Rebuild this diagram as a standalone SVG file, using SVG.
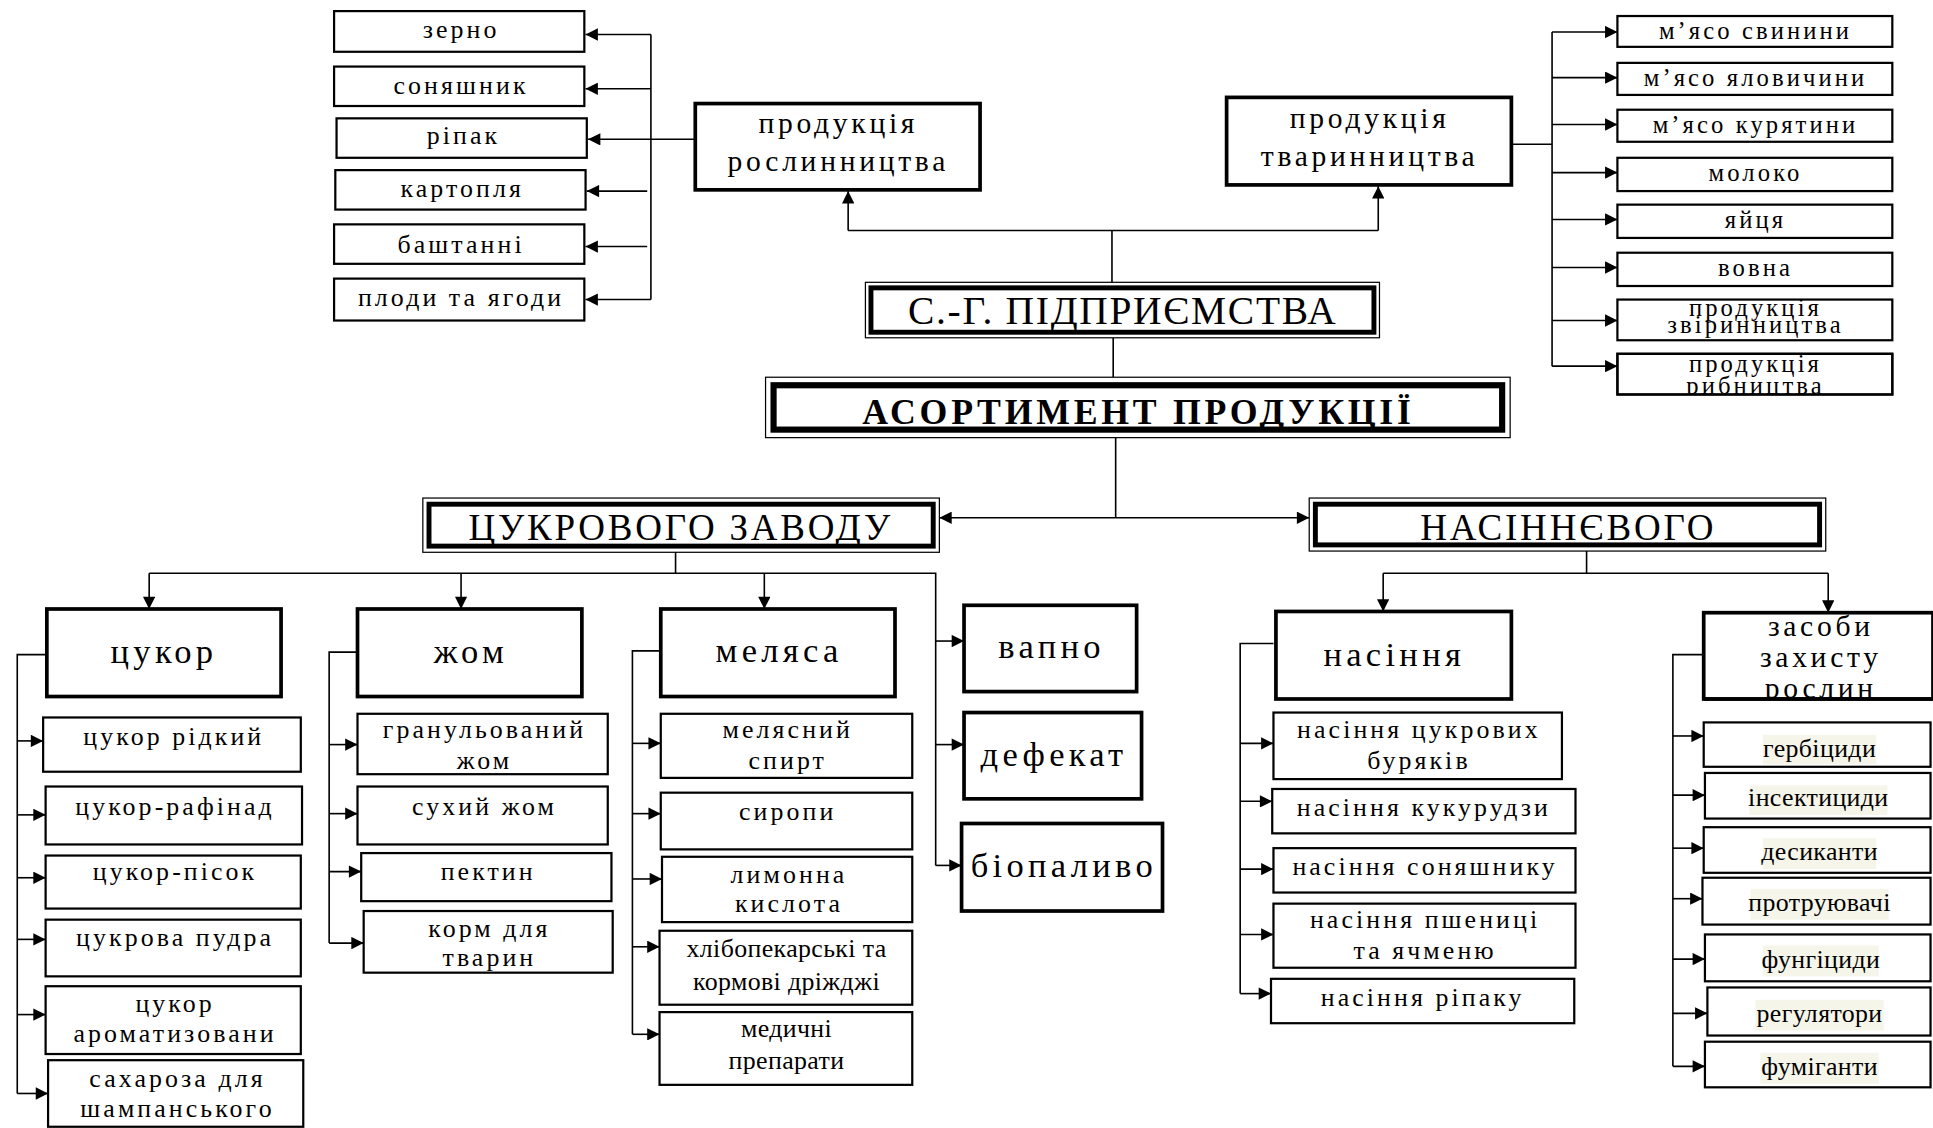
<svg xmlns="http://www.w3.org/2000/svg" width="1933" height="1128" viewBox="0 0 1933 1128">
<style>
text{font-family:"Liberation Serif","Times New Roman",serif;fill:#000;text-anchor:middle}
.l{font-size:21px;letter-spacing:2.5px}
.s{font-size:20px;letter-spacing:2.5px}
.m{font-size:24px;letter-spacing:3px}
.g{font-size:28px;letter-spacing:3.5px}
.p{font-size:21px;letter-spacing:0.3px}
.t{font-size:32px}
.tb{font-size:29px;font-weight:bold}
.b1{fill:#fff;stroke:#000;stroke-width:1.8}
.b2{fill:#fff;stroke:#000;stroke-width:3}
.o{fill:#fff;stroke:#000;stroke-width:1}
.k{fill:none;stroke:#000;stroke-width:4}
.hl{fill:#f5f5ea}
.c{fill:none;stroke:#000;stroke-width:1.3}
.a{fill:none;stroke:#000;stroke-width:1.3;marker-end:url(#ah)}
</style>
<defs>
<marker id="ah" viewBox="0 0 10 10" refX="10" refY="5" markerWidth="12" markerHeight="10" markerUnits="userSpaceOnUse" orient="auto">
<path d="M0,0 L10,5 L0,10 Z" fill="#000"/>
</marker>
<clipPath id="clipRyb"><rect x="1312" y="287" width="223" height="33"/></clipPath>
<clipPath id="clipZas"><rect x="1382" y="497" width="186" height="70"/></clipPath>
</defs>
<rect width="1933" height="1128" fill="#fff"/>
<g transform="scale(1.23278)">
<g id="connectors">
<path class="c" d="M528 28 V243"/>
<path class="a" d="M528 28 H475"/>
<path class="a" d="M528 72 H475"/>
<path class="a" d="M564 113 H477"/>
<path class="a" d="M525 155 H476"/>
<path class="a" d="M525 200 H475"/>
<path class="a" d="M528 243 H475"/>
<path class="c" d="M902 229 V187 M688 187 H1118"/>
<path class="a" d="M688 187 V155"/>
<path class="a" d="M1118 187 V151"/>
<path class="c" d="M1226 117 H1259 M1259 26 V297"/>
<path class="a" d="M1259 26 H1312"/>
<path class="a" d="M1259 63 H1312"/>
<path class="a" d="M1259 101 H1312"/>
<path class="a" d="M1259 140 H1312"/>
<path class="a" d="M1259 178 H1312"/>
<path class="a" d="M1259 217 H1312"/>
<path class="a" d="M1259 260 H1312"/>
<path class="a" d="M1259 297 H1312"/>
<path class="c" d="M903 274 V306 M905 355 V420"/>
<path class="a" d="M905 420 H762"/>
<path class="a" d="M905 420 H1062"/>
<path class="c" d="M548 448 V465 M121 465 H759 V702"/>
<path class="a" d="M121 465 V494"/>
<path class="a" d="M374 465 V494"/>
<path class="a" d="M620 465 V494"/>
<path class="a" d="M759 520 H782"/>
<path class="a" d="M759 604 H782"/>
<path class="a" d="M759 702 H780"/>
<path class="c" d="M38 531 H14 V887"/>
<path class="a" d="M14 601 H35"/>
<path class="a" d="M14 661 H37"/>
<path class="a" d="M14 712 H37"/>
<path class="a" d="M14 762 H37"/>
<path class="a" d="M14 823 H37"/>
<path class="a" d="M14 887 H39"/>
<path class="c" d="M290 529 H267 V765"/>
<path class="a" d="M267 604 H290"/>
<path class="a" d="M267 660 H290"/>
<path class="a" d="M267 707 H293"/>
<path class="a" d="M267 765 H295"/>
<path class="c" d="M536 528 H513 V839"/>
<path class="a" d="M513 603 H536"/>
<path class="a" d="M513 660 H536"/>
<path class="a" d="M513 713 H537"/>
<path class="a" d="M513 768 H535"/>
<path class="a" d="M513 839 H535"/>
<path class="c" d="M1287 447 V465 M1122 465 H1483"/>
<path class="a" d="M1122 465 V496"/>
<path class="a" d="M1483 465 V497"/>
<path class="c" d="M1033 522 H1006 V806"/>
<path class="a" d="M1006 603 H1033"/>
<path class="a" d="M1006 650 H1032"/>
<path class="a" d="M1006 705 H1033"/>
<path class="a" d="M1006 758 H1033"/>
<path class="a" d="M1006 806 H1031"/>
<path class="c" d="M1382 531 H1357 V865"/>
<path class="a" d="M1357 597 H1382"/>
<path class="a" d="M1357 645 H1383"/>
<path class="a" d="M1357 688 H1382"/>
<path class="a" d="M1357 729 H1381"/>
<path class="a" d="M1357 778 H1383"/>
<path class="a" d="M1357 822 H1385"/>
<path class="a" d="M1357 865 H1383"/>
</g>

<g id="zerno"><rect class="b1" x="271" y="9" width="203" height="33"/><text class="l" x="374" y="31">зерно</text></g>
<g id="sonyashnyk"><rect class="b1" x="271" y="54" width="203" height="32"/><text class="l" x="374" y="76">соняшник</text></g>
<g id="ripak"><rect class="b1" x="273" y="96" width="203" height="32"/><text class="l" x="376" y="117">ріпак</text></g>
<g id="kartoplya"><rect class="b1" x="272" y="138" width="203" height="32"/><text class="l" x="375" y="160">картопля</text></g>
<g id="bashtanni"><rect class="b1" x="271" y="182" width="203" height="32"/><text class="l" x="374" y="205">баштанні</text></g>
<g id="plody"><rect class="b1" x="271" y="226" width="203" height="34"/><text class="l" x="374" y="248">плоди та ягоди</text></g>

<g id="roslynnytstvo"><rect class="b2" x="564" y="84" width="231" height="70"/><text class="m" x="680" y="108">продукція</text><text class="m" x="680" y="139">рослинництва</text></g>
<g id="tvarynnytstvo"><rect class="b2" x="995" y="79" width="231" height="71"/><text class="m" x="1111" y="104">продукція</text><text class="m" x="1111" y="135">тваринництва</text></g>

<g id="svynyna"><rect class="b1" x="1312" y="13" width="223" height="25"/><text class="s" x="1424" y="32">м’ясо свинини</text></g>
<g id="yalovychyna"><rect class="b1" x="1312" y="51" width="223" height="26"/><text class="s" x="1424" y="70">м’ясо яловичини</text></g>
<g id="kuryatyna"><rect class="b1" x="1312" y="89" width="223" height="26"/><text class="s" x="1424" y="108">м’ясо курятини</text></g>
<g id="moloko"><rect class="b1" x="1312" y="128" width="223" height="27"/><text class="s" x="1424" y="147">молоко</text></g>
<g id="yaytsya"><rect class="b1" x="1312" y="166" width="223" height="27"/><text class="s" x="1424" y="185">яйця</text></g>
<g id="vovna"><rect class="b1" x="1312" y="205" width="223" height="27"/><text class="s" x="1424" y="224">вовна</text></g>
<g id="zvirynnytstvo"><rect class="b1" x="1312" y="243" width="223" height="33"/><text class="s" x="1424" y="256">продукція</text><text class="s" x="1424" y="270">звіринництва</text></g>
<g id="rybnytstvo"><rect class="b1" x="1312" y="287" width="223" height="33"/><g clip-path="url(#clipRyb)"><text class="s" x="1424" y="302">продукція</text><text class="s" x="1424" y="320">рибництва</text></g><rect x="1312" y="287" width="223" height="33" fill="none" stroke="#000" stroke-width="1.8"/></g>

<g id="sg"><rect class="o" x="702" y="229" width="417" height="45"/><rect class="k" x="706.5" y="233.5" width="408" height="36"/><text class="t" x="910" y="263" textLength="347" lengthAdjust="spacing">С.-Г. ПІДПРИЄМСТВА</text></g>
<g id="asortyment"><rect class="o" x="621" y="306" width="604" height="49"/><rect fill="none" stroke="#000" stroke-width="5" x="627.5" y="312.5" width="591" height="36"/><text class="tb" x="922" y="344" textLength="445" lengthAdjust="spacing">АСОРТИМЕНТ ПРОДУКЦІЇ</text></g>
<g id="tsukrovyi"><rect class="o" x="343" y="404" width="419" height="44"/><rect class="k" x="348" y="409" width="409" height="34"/><text class="t" x="551" y="438" textLength="342" lengthAdjust="spacing" style="font-size:30px">ЦУКРОВОГО ЗАВОДУ</text></g>
<g id="nasinnievyi"><rect class="o" x="1062" y="404" width="419" height="43"/><rect class="k" x="1067" y="409" width="409" height="33"/><text class="t" x="1271" y="438" textLength="238" lengthAdjust="spacing" style="font-size:30px">НАСІННЄВОГО</text></g>

<g id="tsukor"><rect class="b2" x="38" y="494" width="190" height="71"/><text class="g" x="133" y="538">цукор</text></g>
<g id="zhom"><rect class="b2" x="290" y="494" width="182" height="71"/><text class="g" x="382" y="538">жом</text></g>
<g id="melyasa"><rect class="b2" x="536" y="494" width="190" height="71"/><text class="g" x="632" y="537">меляса</text></g>
<g id="vapno"><rect class="b2" x="782" y="491" width="140" height="70"/><text class="g" x="853" y="534">вапно</text></g>
<g id="defekat"><rect class="b2" x="782" y="578" width="144" height="70"/><text class="g" x="855" y="621">дефекат</text></g>
<g id="biopalyvo"><rect class="b2" x="780" y="668" width="163" height="71"/><text class="g" x="863" y="711">біопаливо</text></g>

<g id="ridkyi"><rect class="b1" x="35" y="582" width="209" height="44"/><text class="l" x="141" y="604">цукор рідкий</text></g>
<g id="rafinad"><rect class="b1" x="37" y="638" width="208" height="47"/><text class="l" x="142" y="661">цукор-рафінад</text></g>
<g id="pisok"><rect class="b1" x="37" y="694" width="207" height="43"/><text class="l" x="142" y="714">цукор-пісок</text></g>
<g id="pudra"><rect class="b1" x="37" y="746" width="207" height="46"/><text class="l" x="142" y="767">цукрова пудра</text></g>
<g id="aromat"><rect class="b1" x="37" y="800" width="207" height="55"/><text class="l" x="142" y="821">цукор</text><text class="l" x="142" y="845">ароматизовани</text></g>
<g id="sakharoza"><rect class="b1" x="39" y="860" width="207" height="54"/><text class="l" x="144" y="882">сахароза для</text><text class="l" x="144" y="906">шампанського</text></g>

<g id="granul"><rect class="b1" x="290" y="579" width="203" height="49"/><text class="l" x="393" y="599">гранульований</text><text class="l" x="393" y="624">жом</text></g>
<g id="sukhyi"><rect class="b1" x="290" y="638" width="203" height="47"/><text class="l" x="393" y="661">сухий жом</text></g>
<g id="pektyn"><rect class="b1" x="293" y="692" width="203" height="39"/><text class="l" x="396" y="714">пектин</text></g>
<g id="korm"><rect class="b1" x="295" y="739" width="202" height="50"/><text class="l" x="397" y="760">корм для</text><text class="l" x="397" y="784">тварин</text></g>

<g id="spyrt"><rect class="b1" x="536" y="579" width="204" height="52"/><text class="l" x="639" y="599">мелясний</text><text class="l" x="639" y="624">спирт</text></g>
<g id="syropy"><rect class="b1" x="536" y="643" width="204" height="46"/><text class="l" x="639" y="665">сиропи</text></g>
<g id="lymonna"><rect class="b1" x="537" y="695" width="203" height="53"/><text class="l" x="640" y="716">лимонна</text><text class="l" x="640" y="740">кислота</text></g>
<g id="drizhdzhi"><rect class="b1" x="535" y="755" width="205" height="60"/><text class="p" x="638" y="776">хлібопекарські та</text><text class="p" x="638" y="803">кормові дріжджі</text></g>
<g id="medychni"><rect class="b1" x="535" y="821" width="205" height="59"/><text class="p" x="638" y="841">медичні</text><text class="p" x="638" y="867">препарати</text></g>

<g id="nasinnia"><rect class="b2" x="1035" y="496" width="191" height="71"/><text class="g" x="1131" y="540">насіння</text></g>
<g id="zasoby"><rect class="b2" x="1382" y="497" width="186" height="70"/><g clip-path="url(#clipZas)"><text class="m" x="1477" y="516">засоби</text><text class="m" x="1477" y="541">захисту</text><text class="m" x="1477" y="566">рослин</text></g><path d="M1382 567 H1568" stroke="#000" stroke-width="3"/></g>

<g id="buriaky"><rect class="b1" x="1033" y="578" width="234" height="54"/><text class="l" x="1151" y="599">насіння цукрових</text><text class="l" x="1151" y="624">буряків</text></g>
<g id="kukurudza"><rect class="b1" x="1032" y="640" width="246" height="36"/><text class="l" x="1155" y="662">насіння кукурудзи</text></g>
<g id="soniashnyk2"><rect class="b1" x="1033" y="688" width="245" height="36"/><text class="l" x="1156" y="710">насіння соняшнику</text></g>
<g id="pshenytsia"><rect class="b1" x="1033" y="733" width="245" height="52"/><text class="l" x="1156" y="753">насіння пшениці</text><text class="l" x="1156" y="778">та ячменю</text></g>
<g id="ripak2"><rect class="b1" x="1031" y="794" width="246" height="36"/><text class="l" x="1154" y="816">насіння ріпаку</text></g>

<g id="herbitsydy"><rect class="b1" x="1382" y="586" width="184" height="36"/><rect class="hl" x="1430" y="596" width="92" height="24"/><text class="p" x="1476" y="614">гербіциди</text></g>
<g id="insektytsydy"><rect class="b1" x="1383" y="627" width="183" height="37"/><rect class="hl" x="1419" y="637" width="112" height="24"/><text class="p" x="1475" y="654">інсектициди</text></g>
<g id="desykanty"><rect class="b1" x="1382" y="671" width="184" height="37"/><rect class="hl" x="1430" y="680" width="92" height="25"/><text class="p" x="1476" y="698">десиканти</text></g>
<g id="protruiuvachi"><rect class="b1" x="1381" y="712" width="185" height="38"/><rect class="hl" x="1420" y="721" width="112" height="25"/><text class="p" x="1476" y="739">протруювачі</text></g>
<g id="funhitsydy"><rect class="b1" x="1383" y="758" width="183" height="38"/><rect class="hl" x="1430" y="767" width="94" height="25"/><text class="p" x="1477" y="785">фунгіциди</text></g>
<g id="rehuliatory"><rect class="b1" x="1385" y="801" width="181" height="39"/><rect class="hl" x="1424" y="811" width="104" height="25"/><text class="p" x="1476" y="829">регулятори</text></g>
<g id="fumihanty"><rect class="b1" x="1383" y="845" width="183" height="37"/><rect class="hl" x="1428" y="854" width="96" height="25"/><text class="p" x="1476" y="872">фуміганти</text></g>
</g>
</svg>
